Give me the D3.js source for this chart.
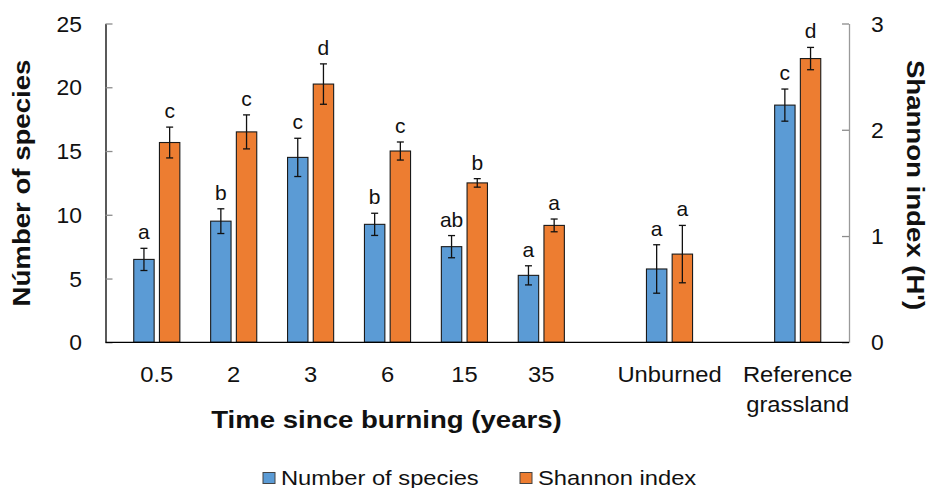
<!DOCTYPE html>
<html>
<head>
<meta charset="utf-8">
<script src="https://cdn.jsdelivr.net/npm/d3@7/dist/d3.min.js"></script>
<style>
  html, body { margin: 0; padding: 0; background: #fff; }
  svg { display: block; font-family: "Liberation Sans", Arial, sans-serif; }
</style>
</head>
<body>
<svg id="chart" width="929" height="488"></svg>
<script>
// Categories (second line of a label after "\n")
const categories = ["0.5", "2", "3", "6", "15", "35", "Unburned", "Reference\ngrassland"];

// Number of species (left axis): means, errors, significance letters
const speciesMean = [6.5, 9.5, 14.5, 9.25, 7.5, 5.25, 5.75, 18.6];
const speciesErr  = [0.87, 0.97, 1.5, 0.87, 0.87, 0.75, 1.9, 1.26];
const speciesLetters = ["a", "b", "c", "b", "ab", "a", "a", "c"];

// Shannon index H' (right axis): means, errors, significance letters
const shannonMean = [1.88, 1.98, 2.43, 1.80, 1.50, 1.10, 0.83, 2.67];
const shannonErr  = [0.145, 0.16, 0.19, 0.085, 0.04, 0.06, 0.27, 0.105];
const shannonLetters = ["c", "c", "d", "c", "b", "a", "a", "d"];

const speciesTicks = [0, 5, 10, 15, 20, 25];
const shannonTicks = [0, 1, 2, 3];

const seriesNames = ["Number of species", "Shannon index"];
const colors = ["#5B9BD5", "#ED7D31"];

const svg = d3.select("#chart");
const plot = { left: 105.5, right: 849, top: 23.5, bottom: 342.3 };
const ink = "#111";

// Text whose glyphs are widened along the baseline by factor sx
function wideText(parent, x, y, str, opts) {
  const o = Object.assign({ size: 22, sx: 1, anchor: "start", rotate: 0, weight: "normal" }, opts);
  const g = parent.append("g")
    .attr("transform", `translate(${x},${y}) rotate(${o.rotate}) scale(${o.sx},1)`);
  return g.append("text")
    .attr("text-anchor", o.anchor)
    .attr("font-size", o.size)
    .attr("font-weight", o.weight)
    .attr("fill", ink)
    .text(str);
}

// Category slots: the two non-chronosequence groups are set apart by an extra gap
const extraGap = 0.667;
const slotPos = (i) => i + (i >= 6 ? extraGap * (i - 5) : 0);
const x = d3.scaleLinear()
  .domain([-0.667, slotPos(categories.length - 1) + 0.667])
  .range([plot.left, plot.right]);

const yL = d3.scaleLinear().domain([0, 25]).range([plot.bottom, plot.top]);
const yR = d3.scaleLinear().domain([0, 3]).range([plot.bottom, plot.top]);

const barW = 20.4, offset = 12.85;

// Axes: lines from d3 axes, ticks point inward, labels drawn separately
const leftAxis = svg.append("g").attr("transform", `translate(${plot.left},0)`)
  .call(d3.axisLeft(yL).tickValues(speciesTicks).tickSize(0).tickFormat(""));
leftAxis.select(".domain").attr("stroke", "#000").attr("stroke-width", 1.3);
leftAxis.selectAll(".tick").append("line")
  .attr("x1", 0).attr("x2", 7).attr("stroke", "#8c8c8c").attr("stroke-width", 1.3);

const rightAxis = svg.append("g").attr("transform", `translate(${plot.right},0)`)
  .call(d3.axisRight(yR).tickValues(shannonTicks).tickSize(0).tickFormat(""));
rightAxis.select(".domain").attr("stroke", "#9a9a9a").attr("stroke-width", 1.3);
rightAxis.selectAll(".tick").append("line")
  .attr("x1", 0).attr("x2", -7).attr("stroke", "#8c8c8c").attr("stroke-width", 1.3);

const tickLabels = svg.append("g");
speciesTicks.forEach(v => wideText(tickLabels, 82, yL(v) + 8, String(v), { anchor: "end", sx: 1.04 }));
shannonTicks.forEach(v => wideText(tickLabels, 871, yR(v) + 8, d3.format("d")(v), { anchor: "start", sx: 1.04 }));

// Bars, error bars and letters
const groups = svg.append("g").selectAll("g.cat")
  .data(categories.map((c, i) => ({ c, i })))
  .join("g").attr("class", "cat");

function drawSeries(sel, means, errs, letters, scale, color, dx) {
  sel.append("rect")
    .attr("x", d => x(slotPos(d.i)) + dx - barW / 2)
    .attr("y", d => scale(means[d.i]))
    .attr("width", barW)
    .attr("height", d => scale(0) - scale(means[d.i]))
    .attr("fill", color)
    .attr("stroke", "#1a1a1a")
    .attr("stroke-width", 1.1);
  const eb = sel.append("g").attr("stroke", "#111").attr("stroke-width", 1.3);
  eb.append("line")
    .attr("x1", d => x(slotPos(d.i)) + dx).attr("x2", d => x(slotPos(d.i)) + dx)
    .attr("y1", d => scale(means[d.i] + errs[d.i])).attr("y2", d => scale(means[d.i] - errs[d.i]));
  [1, -1].forEach(s => {
    eb.append("line")
      .attr("x1", d => x(slotPos(d.i)) + dx - 3.5).attr("x2", d => x(slotPos(d.i)) + dx + 3.5)
      .attr("y1", d => scale(means[d.i] + s * errs[d.i])).attr("y2", d => scale(means[d.i] + s * errs[d.i]));
  });
  sel.each(function (d) {
    wideText(d3.select(this), x(slotPos(d.i)) + dx, scale(means[d.i] + errs[d.i]) - 9,
      letters[d.i], { anchor: "middle", size: 20, sx: 1.05 });
  });
}
drawSeries(groups, speciesMean, speciesErr, speciesLetters, yL, colors[0], -offset);
drawSeries(groups, shannonMean, shannonErr, shannonLetters, yR, colors[1], offset);

// Baseline
svg.append("line")
  .attr("x1", plot.left).attr("x2", plot.right)
  .attr("y1", plot.bottom).attr("y2", plot.bottom)
  .attr("stroke", "#000").attr("stroke-width", 1.3);

// Category labels
const catLabels = svg.append("g");
categories.forEach((c, i) => {
  c.split("\n").forEach((line, k) => {
    wideText(catLabels, x(slotPos(i)), 382 + k * 29.5, line, { anchor: "middle", size: 22, sx: 1.08 });
  });
});

// Axis titles
const titles = svg.append("g");
wideText(titles, 386.5, 428, "Time since burning (years)",
  { anchor: "middle", size: 23, weight: "bold", sx: 1.2 });
wideText(titles, 30, 183, "Númber of species",
  { anchor: "middle", size: 23, weight: "bold", sx: 1.2, rotate: -90 });
wideText(titles, 907, 185, "Shannon index (H')",
  { anchor: "middle", size: 23, weight: "bold", sx: 1.2, rotate: 90 });

// Legend
const legend = svg.append("g");
const legendX = [263, 520];
seriesNames.forEach((name, k) => {
  legend.append("rect")
    .attr("x", legendX[k]).attr("y", 472.5)
    .attr("width", 12).attr("height", 11)
    .attr("fill", colors[k]).attr("stroke", "#444").attr("stroke-width", 1);
  wideText(legend, legendX[k] + 18, 484.5, name, { size: 21, sx: 1.13 });
});
</script>
</body>
</html>
